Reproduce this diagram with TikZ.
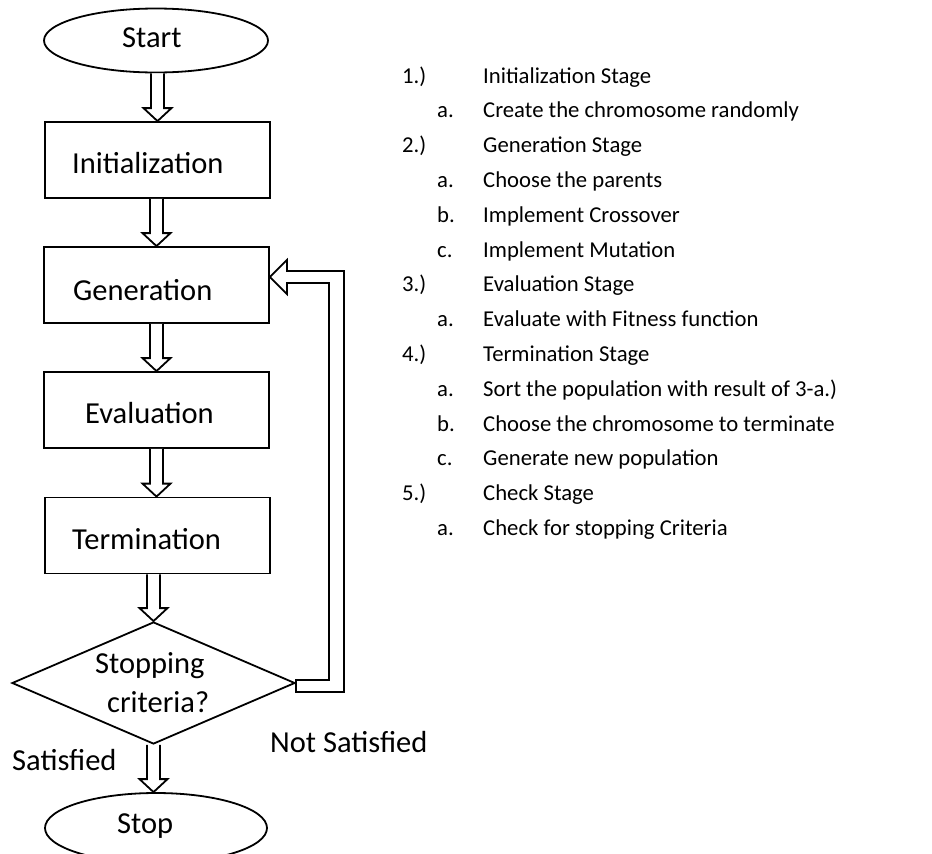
\documentclass[tikz,border=0pt]{standalone}
\usepackage{fontspec}
\setmainfont{Carlito}
\usetikzlibrary{shapes.geometric,calc}

\tikzset{
  outline/.style={draw=black, line width=1.8pt, inner sep=0pt},
  procbox/.style={outline, rectangle, minimum width=225pt, minimum height=76pt},
  terminal/.style={outline, ellipse},
  decision/.style={outline, diamond, minimum width=283pt, minimum height=122pt},
  shapetext/.style={inner sep=0pt, anchor=base west, font=\fontsize{30.5}{36}\selectfont},
  listtext/.style={inner sep=0pt, anchor=base west, font=\fontsize{22.7}{27}\selectfont},
  hollow/.style={draw=black, line width=1.8pt, fill=white, line join=miter},
}

% hollow block arrow pointing down from #1 to #2, its axis on the x of #3
\newcommand\blockdown[3]{%
  \draw[hollow] let \p1=(#1.south), \p2=(#2.north), \p3=(#3) in
    (\x3-6.5pt,\y1) -- (\x3-6.5pt,\y2+13pt) -- (\x3-14pt,\y2+13pt) --
    (\x3,\y2) -- (\x3+14pt,\y2+13pt) -- (\x3+6.5pt,\y2+13pt) -- (\x3+6.5pt,\y1);
}

\begin{document}
\begin{tikzpicture}[x=1pt, y=-1pt]
\useasboundingbox (0,0) rectangle (932,854);

% flowchart shapes
\node[terminal, minimum width=224pt, minimum height=64pt] (start) at (156,40.5) {};
\node[procbox] (init) at (157.5,160) {};
\node[procbox] (gen)  at (156.5,285) {};
\node[procbox] (eval) at (156.5,410) {};
\node[procbox] (term) at (157.5,535.5) {};
\node[decision] (dia) at (153.5,683) {};
\node[terminal, minimum width=222pt, minimum height=70pt] (stop) at (156,828) {};

% labels inside the shapes
\node[shapetext] (tstart) at (122,47)  {Start};
\node[shapetext] (tinit)  at (72,173)  {Initialization};
\node[shapetext] (tgen)   at (73,300)  {Generation};
\node[shapetext] (teval)  at (85,423)  {Evaluation};
\node[shapetext] (tterm)  at (72,549)  {Termination};
\node[shapetext] (tdia1)  at (95,673)  {Stopping};
\node[shapetext] (tdia2)  at (107,712) {criteria?};
\node[shapetext] (tstop)  at (117,833) {Stop};

% branch labels
\node[shapetext] (sat)    at (12,770)  {Satisfied};
\node[shapetext] (notsat) at (270,752) {Not Satisfied};

% forward flow
\blockdown{start}{init}{init.center}
\blockdown{init}{gen}{gen.center}
\blockdown{gen}{eval}{eval.center}
\blockdown{eval}{term}{eval.center}
\blockdown{term}{dia}{dia.center}
\blockdown{dia}{stop}{dia.center}

% loop back from the decision to the generation step
\draw[hollow] let \p1=(gen.east), \p2=(dia.east) in
  (\x2,\y2+3pt) -- (\x1+59pt,\y2+3pt) -- (\x1+59pt,\y1+2pt) --
  (\x1+17pt,\y1+2pt) -- (\x1+17pt,\y1-9pt) -- (\x1,\y1+8pt) --
  (\x1+17pt,\y1+25pt) -- (\x1+17pt,\y1+14pt) -- (\x1+74pt,\y1+14pt) --
  (\x1+74pt,\y2-9pt) -- (\x2,\y2-9pt) -- cycle;

% stage list
\foreach \i/\mark/\txt [count=\n from 0] in {
  0/1.)/Initialization Stage,
  1/a./Create the chromosome randomly,
  0/2.)/Generation Stage,
  1/a./Choose the parents,
  1/b./Implement Crossover,
  1/c./Implement Mutation,
  0/3.)/Evaluation Stage,
  1/a./Evaluate with Fitness function,
  0/4.)/Termination Stage,
  1/a./Sort the population with result of 3-a.),
  1/b./Choose the chromosome to terminate,
  1/c./Generate new population,
  0/5.)/Check Stage,
  1/a./Check for stopping Criteria}{
  \node[listtext] (mark\n) at ({402+35*\i}, {83+34.8*\n}) {\mark};
  \node[listtext] (item\n) at (483, {83+34.8*\n}) {\txt};
}
\end{tikzpicture}
\end{document}
